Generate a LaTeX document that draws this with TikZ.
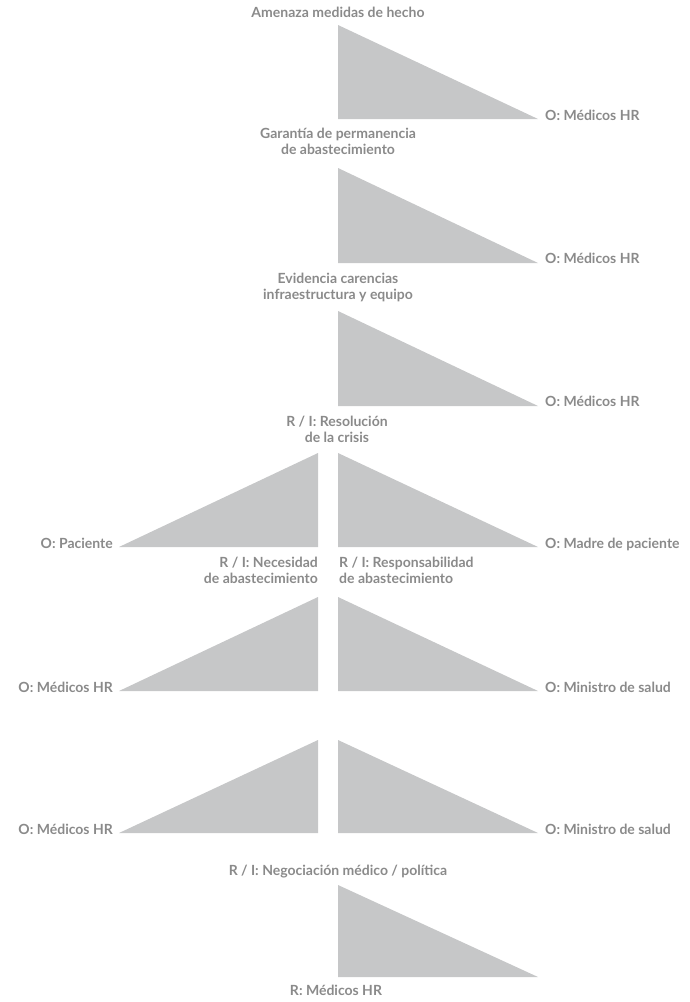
\documentclass[tikz,border=0pt]{standalone}
\usepackage{fontspec}
\setmainfont{Lato}
\begin{document}
\begin{tikzpicture}[x=1pt,y=-1pt,
  wedge/.style={fill=wedgegray,draw=none},
  lbl/.style={text=labelgray,font=\bfseries\fontsize{14}{16}\selectfont,inner sep=0pt,anchor=base,align=center},
  lblr/.style={lbl,anchor=base east,align=right},
  lbll/.style={lbl,anchor=base west,align=left}]
\definecolor{wedgegray}{HTML}{C6C7C8}
\definecolor{labelgray}{HTML}{8A8A8A}
\useasboundingbox (0,0) rectangle (689,1002);

% --- single wedges pointing right
\fill[wedge] (338,25) -- (338,119) -- (538,119) -- cycle;
\fill[wedge] (338,168) -- (338,263) -- (538,263) -- cycle;
\fill[wedge] (338,311) -- (338,406) -- (538,406) -- cycle;
\fill[wedge] (338,885) -- (338,977) -- (538,977) -- cycle;

% --- paired wedges
\fill[wedge] (318,453) -- (318,547) -- (119,547) -- cycle;
\fill[wedge] (338,453) -- (338,547) -- (538,547) -- cycle;
\fill[wedge] (318,597) -- (318,691) -- (119,691) -- cycle;
\fill[wedge] (338,597) -- (338,691) -- (538,691) -- cycle;
\fill[wedge] (318,740) -- (318,833) -- (119,833) -- cycle;
\fill[wedge] (338,740) -- (338,833) -- (538,833) -- cycle;

% --- labels (multi-line nodes are placed by the baseline of their last line)
\node[lbl] (amenaza) at (338,17) {Amenaza medidas de hecho};
\node[lbll] (m1) at (545,120) {O: Médicos HR};
\node[lbl] (garantia) at (338,154) {Garantía de permanencia\\de abastecimiento};
\node[lbll] (m2) at (545,263) {O: Médicos HR};
\node[lbl] (evidencia) at (338,299) {Evidencia carencias\\infraestructura y equipo};
\node[lbll] (m3) at (545,406) {O: Médicos HR};
\node[lbl] (resol) at (337,442) {R / I: Resolución\\de la crisis};
\node[lblr] (paciente) at (113,548) {O: Paciente};
\node[lbll] (madre) at (545,548) {O: Madre de paciente};
\node[lblr] (necesidad) at (318,583) {R / I: Necesidad\\de abastecimiento};
\node[lbll] (respons) at (339,583) {R / I: Responsabilidad\\de abastecimiento};
\node[lblr] (m4) at (113,692) {O: Médicos HR};
\node[lbll] (min1) at (545,692) {O: Ministro de salud};
\node[lblr] (m5) at (113,834) {O: Médicos HR};
\node[lbll] (min2) at (545,834) {O: Ministro de salud};
\node[lbl] (negoc) at (338,875) {R / I: Negociación médico / política};
\node[lbl] (rmed) at (336,995) {R: Médicos HR};
\end{tikzpicture}
\end{document}
